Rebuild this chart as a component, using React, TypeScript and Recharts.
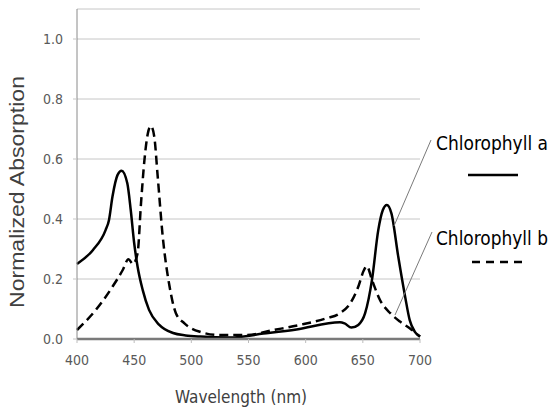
import { LineChart, Line, XAxis, YAxis, CartesianGrid } from 'recharts';

// Chlorophyll a (solid)
const waveA = [400, 414, 425, 428, 431, 435.5, 439, 444, 447, 450, 453, 457.5, 463, 472, 484, 495, 508, 534, 563, 592, 630, 634, 640, 646, 652, 658, 663.5, 667.5, 671, 675, 681, 687, 691, 695.5, 700];
const absA = [0.25, 0.297, 0.363, 0.397, 0.474, 0.547, 0.561, 0.519, 0.43, 0.32, 0.241, 0.163, 0.097, 0.047, 0.02, 0.012, 0.008, 0.005, 0.018, 0.032, 0.056, 0.052, 0.038, 0.047, 0.086, 0.197, 0.363, 0.43, 0.447, 0.419, 0.274, 0.141, 0.063, 0.024, 0.008];

// Chlorophyll b (dashed)
const waveB = [400, 416.5, 431, 440, 445, 449, 453, 456, 459, 462, 464.7, 467.6, 470.6, 475, 481, 486.5, 494, 507.5, 525, 548, 572, 595, 618, 630, 639, 646, 651, 653.5, 658, 665, 674, 682.5, 691, 700];
const absB = [0.03, 0.097, 0.174, 0.23, 0.266, 0.25, 0.286, 0.453, 0.597, 0.686, 0.71, 0.674, 0.541, 0.341, 0.174, 0.086, 0.052, 0.024, 0.013, 0.013, 0.03, 0.047, 0.069, 0.086, 0.119, 0.174, 0.23, 0.243, 0.197, 0.13, 0.086, 0.058, 0.036, 0.008];

const xTicks = [400, 450, 500, 550, 600, 650, 700];
const yTicks = [0, 0.2, 0.4, 0.6, 0.8, 1.0];

const seriesNames = ['Chlorophyll a', 'Chlorophyll b'];
const xTitle = 'Wavelength (nm)';
const yTitle = 'Normalized Absorption';

const dataA = waveA.map((wl, i) => ({ wl, v: absA[i] }));
const dataB = waveB.map((wl, i) => ({ wl, v: absB[i] }));

const tickStyle = { fill: '#595959', fontSize: 14, fontFamily: 'DejaVu Sans Condensed, DejaVu Sans' };

export default function App() {
  return (
    <div style={{ position: 'fixed', left: 0, top: 0, width: 555, height: 410, background: '#fff' }}>
      <LineChart width={555} height={410} margin={{ top: 9, right: 135, bottom: 41, left: 17 }}>
        <CartesianGrid vertical={false} stroke="#c6c6c6" strokeWidth={1} />
        <XAxis
          type="number"
          dataKey="wl"
          domain={[400, 700]}
          ticks={xTicks}
          height={30}
          tick={tickStyle}
          tickSize={4}
          tickMargin={12}
          axisLine={{ stroke: '#7a7a7a', strokeWidth: 2.5 }}
          tickLine={{ stroke: '#bdbdbd' }}
          allowDuplicatedCategory={false}
        />
        <YAxis
          type="number"
          domain={[0, 1.1]}
          ticks={yTicks}
          width={60}
          tick={tickStyle}
          tickSize={4}
          tickMargin={10}
          tickFormatter={(v: number) => v.toFixed(1)}
          axisLine={{ stroke: '#8a8a8a' }}
          tickLine={{ stroke: '#c6c6c6' }}
        />
        <Line
          data={dataB}
          dataKey="v"
          name={seriesNames[1]}
          type="monotone"
          stroke="#000"
          strokeWidth={2.5}
          strokeDasharray="9 5"
          dot={false}
          isAnimationActive={false}
        />
        <Line
          data={dataA}
          dataKey="v"
          name={seriesNames[0]}
          type="monotone"
          stroke="#000"
          strokeWidth={2.5}
          dot={false}
          isAnimationActive={false}
        />
      </LineChart>
      <svg width={555} height={410} style={{ position: 'absolute', left: 0, top: 0, pointerEvents: 'none' }}>
        <text
          transform="translate(24,192) rotate(-90)"
          textAnchor="middle"
          fontFamily="Liberation Sans, Arial, sans-serif"
          fontSize={21}
          fill="#404040"
          textLength={232}
          lengthAdjust="spacingAndGlyphs"
        >
          {yTitle}
        </text>
        <text
          x={241}
          y={403}
          textAnchor="middle"
          fontFamily="DejaVu Sans Condensed, DejaVu Sans"
          fontSize={18}
          fill="#404040"
          textLength={132}
          lengthAdjust="spacingAndGlyphs"
        >
          {xTitle}
        </text>
        <text x={436} y={150} fontFamily="DejaVu Sans Condensed, DejaVu Sans" fontSize={20} fill="#000" textLength={112} lengthAdjust="spacingAndGlyphs">
          {seriesNames[0]}
        </text>
        <line x1={468} y1={175} x2={518} y2={175} stroke="#000" strokeWidth={2.5} />
        <line x1={431} y1={140} x2={394} y2={226} stroke="#7a7a7a" strokeWidth={1} />
        <text x={436} y={245} fontFamily="DejaVu Sans Condensed, DejaVu Sans" fontSize={20} fill="#000" textLength={112} lengthAdjust="spacingAndGlyphs">
          {seriesNames[1]}
        </text>
        <line x1={472} y1={262} x2={522} y2={262} stroke="#000" strokeWidth={2.5} strokeDasharray="8 6" />
        <line x1={432} y1={232} x2={395} y2={315} stroke="#7a7a7a" strokeWidth={1} />
      </svg>
    </div>
  );
}
